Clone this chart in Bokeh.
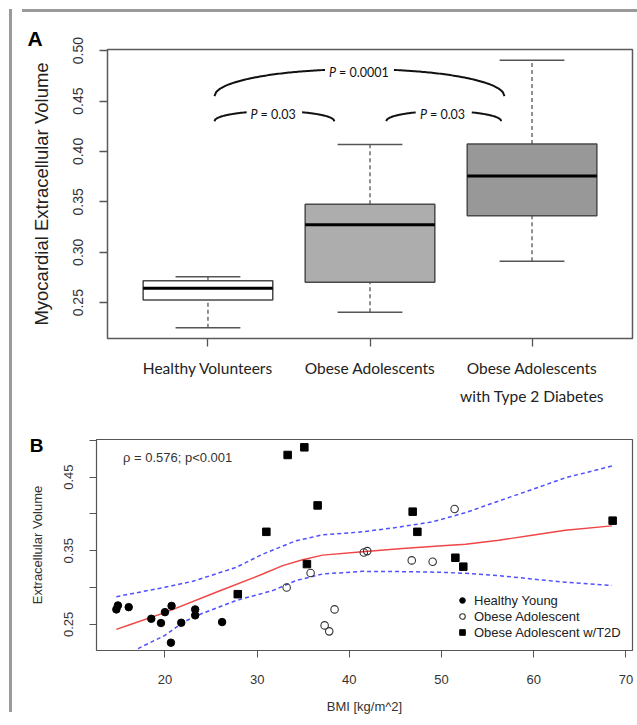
import numpy as np
from bokeh.plotting import figure
from bokeh.models import (FixedTicker, PrintfTickFormatter, Label, Range1d, Legend, LegendItem,
                          Div, Spacer, LinearAxis, Title)
from bokeh.layouts import column, row
from bokeh.embed import file_html
from bokeh.resources import INLINE

# ---------------- data ----------------
group_pos = [1, 2, 3]
group_labels = ["Healthy Volunteers", "Obese Adolescents", "Obese Adolescents"]
group_label_line2 = "with Type 2 Diabetes"
box_fill = ["#ffffff", "#adadad", "#989898"]

hy_bmi = [14.73, 14.9, 16.07, 18.52, 19.57, 20.0, 20.72, 20.65, 21.77, 23.28, 23.28, 26.2]
hy_ecv = [0.2703, 0.2757, 0.2734, 0.2576, 0.2518, 0.2666, 0.2751, 0.2251, 0.2522, 0.2703, 0.2622, 0.2531]
oa_bmi = [33.2, 35.8, 38.4, 37.32, 37.82, 41.57, 41.94, 46.77, 49.04, 51.42]
oa_ecv = [0.300, 0.3197, 0.2703, 0.2486, 0.2405, 0.3477, 0.3495, 0.3369, 0.3351, 0.4068]
t2d_bmi = [27.9, 31.0, 33.31, 35.12, 35.4, 36.56, 46.87, 47.38, 51.5, 52.36, 68.56]
t2d_ecv = [0.291, 0.3757, 0.4801, 0.4905, 0.3319, 0.4116, 0.4031, 0.3757, 0.3405, 0.3284, 0.3909]

fit_bmi = [14.73, 16.18, 20.14, 25.55, 30.61, 32.77, 34.94, 37.1, 41.43, 45.76, 50.09, 52.61, 56.22, 59.83, 63.43, 68.48]
fit_ecv = [0.2432, 0.2495, 0.2666, 0.2936, 0.3184, 0.3297, 0.3378, 0.3441, 0.3486, 0.3531, 0.3568, 0.3589, 0.3643, 0.3711, 0.3778, 0.3838]
ci_hi_bmi = [14.73, 20.0, 23.03, 27.72, 30.61, 34.21, 37.1, 41.43, 45.03, 49.0, 52.61, 56.22, 59.83, 63.43, 68.67]
ci_hi_ecv = [0.2876, 0.3004, 0.3085, 0.3274, 0.3454, 0.3635, 0.3716, 0.3757, 0.3815, 0.3892, 0.4018, 0.4176, 0.4332, 0.4491, 0.4657]
ci_lo_bmi = [17.08, 20.0, 21.76, 23.03, 27.72, 31.69, 34.21, 37.1, 41.43, 45.76, 50.09, 52.61, 56.22, 59.83, 63.43, 68.48]
ci_lo_ecv = [0.217, 0.2351, 0.2508, 0.2599, 0.2824, 0.2959, 0.3095, 0.3184, 0.3220, 0.3216, 0.3207, 0.3193, 0.3162, 0.3116, 0.3072, 0.3027]

# significance brackets: start group-x, end group-x, end level, top level, text
br_x0 = [1.04, 2.10, 1.04]
br_x1 = [1.78, 2.81, 2.83]
br_yend = [0.430, 0.430, 0.4548]
br_ytop = [0.440, 0.440, 0.4816]
br_text = ["= 0.03", "= 0.03", "= 0.0001"]
br_text_y = [0.4365, 0.4365, 0.4786]

y_ticks = [0.25, 0.30, 0.35, 0.40, 0.45, 0.50]
b_y_labeled = [0.25, 0.35, 0.45]
b_x_ticks = [20, 30, 40, 50, 60, 70]

A_YTITLE = "Myocardial Extracellular Volume"
B_LETTER_AT = 0.493      # vertical centre of the panel letter "B", in data units

AX_FONT = "Liberation Sans"
FRAME_GRAY = "#9a9a9a"


def fivenum(v):
    x = np.sort(np.asarray(v, float))
    n = len(x)
    n4 = np.floor((n + 3) / 2) / 2
    d = np.array([1, n4, (n + 1) / 2, n + 1 - n4, n]) - 1
    return 0.5 * (x[np.floor(d).astype(int)] + x[np.ceil(d).astype(int)])


def r_range(v):
    lo, hi = min(v), max(v)
    r = hi - lo
    return lo - 0.04 * r, hi + 0.04 * r


def bare_axis(**kw):
    return LinearAxis(major_tick_out=0, major_tick_in=0, axis_line_color=None,
                      major_tick_line_color=None, minor_tick_line_color=None, **kw)


all_ecv = hy_ecv + oa_ecv + t2d_ecv
all_bmi = hy_bmi + oa_bmi + t2d_bmi
ylo, yhi = r_range(all_ecv)
xlo, xhi = r_range(all_bmi)
y_mid = round((ylo + yhi) / 2, 6)

stats = np.array([fivenum(g) for g in (hy_ecv, oa_ecv, t2d_ecv)])
pos = np.array(group_pos, float)

# ---------------- panel A ----------------
pa = figure(width=622, height=390, output_backend="svg", toolbar_location=None,
            x_range=Range1d(0.38, 3.62), y_range=Range1d(ylo, yhi),
            min_border_left=90, min_border_right=7, min_border_top=32, min_border_bottom=68)
pa.xgrid.visible = False
pa.ygrid.visible = False
pa.outline_line_color = "#5a5a5a"
pa.outline_line_width = 1.5

pa.segment(x0=pos, x1=pos, y0=stats[:, 3], y1=stats[:, 4], line_color="#555555", line_width=1.3, line_dash="4 3")
pa.segment(x0=pos, x1=pos, y0=stats[:, 0], y1=stats[:, 1], line_color="#555555", line_width=1.3, line_dash="4 3")
pa.segment(x0=pos - 0.2, x1=pos + 0.2, y0=stats[:, 4], y1=stats[:, 4], line_color="#555555", line_width=1.5)
pa.segment(x0=pos - 0.2, x1=pos + 0.2, y0=stats[:, 0], y1=stats[:, 0], line_color="#555555", line_width=1.5)
pa.vbar(x=pos, width=0.8, bottom=stats[:, 1], top=stats[:, 3], fill_color=box_fill,
        line_color="#4a4a4a", line_width=1.5)
pa.segment(x0=pos - 0.4, x1=pos + 0.4, y0=stats[:, 2], y1=stats[:, 2], line_color="black", line_width=3)

for x0, x1, ye, yt, txt, ty in zip(br_x0, br_x1, br_yend, br_ytop, br_text, br_text_y):
    xc = (x0 + x1) / 2
    hw = (x1 - x0) / 2
    t = np.linspace(-1, 1, 161)
    xs = xc + hw * t
    ys = ye + (yt - ye) * np.sqrt(np.clip(1 - t ** 2, 0, 1))
    gap = (len(txt) * 6.6 + 16) / 2 / 162.5
    ys[np.abs(xs - xc) < gap] = np.nan
    pa.line(xs, ys, line_color="#111111", line_width=2)
    tw = len(txt) * 6.6 + 10
    pa.add_layout(Label(x=xc, y=ty, text="P", text_font="Lato", text_font_style="italic",
                        text_font_size="12.5px", text_align="right", text_baseline="middle",
                        x_offset=-tw / 2 + 8, text_color="#111111"))
    pa.add_layout(Label(x=xc, y=ty, text=txt, text_font="Lato",
                        text_font_size="12.5px", text_align="left", text_baseline="middle",
                        x_offset=-tw / 2 + 11, text_color="#111111"))

pa.xaxis.ticker = FixedTicker(ticks=group_pos)
pa.xaxis.major_label_overrides = {p: l for p, l in zip(group_pos, group_labels)}
pa.xaxis.major_label_text_font = "Lato"
pa.xaxis.major_label_text_font_size = "15.5px"
pa.xaxis.major_label_text_color = "#222222"
pa.xaxis.major_label_standoff = 12

pa.yaxis.ticker = FixedTicker(ticks=y_ticks)
pa.yaxis.formatter = PrintfTickFormatter(format="%.2f")
pa.yaxis.major_label_orientation = "vertical"
pa.yaxis.major_label_text_font = AX_FONT
pa.yaxis.major_label_text_font_size = "14px"
pa.yaxis.major_label_text_color = "#333333"
pa.yaxis.major_label_standoff = 16
for ax in (pa.xaxis, pa.yaxis):
    ax.axis_line_color = None
    ax.major_tick_out = 8
    ax.major_tick_in = 0
    ax.major_tick_line_color = "#555555"
    ax.major_tick_line_width = 1.3
    ax.minor_tick_line_color = None

# second line of the third category label
line2 = bare_axis(ticker=FixedTicker(ticks=[group_pos[2]]),
                  major_label_overrides={group_pos[2]: group_label_line2},
                  major_label_text_font="Lato", major_label_text_font_size="15.5px",
                  major_label_text_color="#222222", major_label_standoff=7)
pa.add_layout(line2, "below")

# y-axis title of panel A
ytitle = bare_axis(ticker=FixedTicker(ticks=[y_mid]),
                   major_label_overrides={y_mid: A_YTITLE},
                   major_label_orientation="vertical", major_label_text_font=AX_FONT,
                   major_label_text_font_size="18.5px", major_label_text_color="#222222",
                   major_label_standoff=19)
pa.add_layout(ytitle, "left")

pa.add_layout(Title(text="A", align="left", offset=-80, standoff=0, text_font=AX_FONT,
                    text_font_style="bold", text_font_size="21px", text_color="black"), "above")

# ---------------- panel B ----------------
pb = figure(width=622, height=310, output_backend="svg", toolbar_location=None,
            x_range=Range1d(xlo, xhi), y_range=Range1d(ylo, yhi),
            min_border_left=79, min_border_right=7, min_border_top=32, min_border_bottom=67)
pb.xgrid.visible = False
pb.ygrid.visible = False
pb.outline_line_color = "#555555"
pb.outline_line_width = 1.2

pb.line(ci_hi_bmi, ci_hi_ecv, line_color="#5050ff", line_width=1.5, line_dash="4 3")
pb.line(ci_lo_bmi, ci_lo_ecv, line_color="#5050ff", line_width=1.5, line_dash="4 3")
pb.line(fit_bmi, fit_ecv, line_color="#f04646", line_width=1.4)

r_hy = pb.scatter(hy_bmi, hy_ecv, marker="circle", size=7.5, fill_color="black", line_color="black")
r_oa = pb.scatter(oa_bmi, oa_ecv, marker="circle", size=7.5, fill_color=None, line_color="#333333", line_width=1.1)
r_t2d = pb.scatter(t2d_bmi, t2d_ecv, marker="square", size=7.5, fill_color="black", line_color="black")

legend = Legend(items=[LegendItem(label="Healthy Young", renderers=[r_hy]),
                       LegendItem(label="Obese Adolescent", renderers=[r_oa]),
                       LegendItem(label="Obese Adolescent w/T2D", renderers=[r_t2d])],
                location=(359, 10), margin=0, padding=0, spacing=0,
                glyph_width=14, glyph_height=16, label_height=16, label_standoff=5,
                label_text_font=AX_FONT, label_text_font_size="13px", label_text_color="#222222",
                border_line_color=None, background_fill_alpha=0)
pb.add_layout(legend)

pb.add_layout(Label(x=15.45, y=0.477, text="\u03c1 = 0.576; p<0.001", text_font=AX_FONT,
                    text_font_size="13px", text_color="#333333", text_align="left", text_baseline="middle"))

pb.xaxis.ticker = FixedTicker(ticks=b_x_ticks)
pb.yaxis.ticker = FixedTicker(ticks=y_ticks)
pb.yaxis.formatter = PrintfTickFormatter(format="%.2f")
pb.yaxis.major_label_overrides = {t: ("%.2f" % t if t in b_y_labeled else "") for t in y_ticks}
pb.yaxis.major_label_orientation = "vertical"
pb.xaxis.axis_label = "BMI [kg/m^2]"
pb.yaxis.axis_label = "Extracellular Volume"
for ax in (pb.xaxis, pb.yaxis):
    ax.axis_line_color = None
    ax.major_tick_out = 7
    ax.major_tick_in = 0
    ax.major_tick_line_color = "#555555"
    ax.minor_tick_line_color = None
    ax.major_label_text_font = AX_FONT
    ax.major_label_text_font_size = "13px"
    ax.major_label_text_color = "#333333"
    ax.axis_label_text_font = AX_FONT
    ax.axis_label_text_font_size = "13px"
    ax.axis_label_text_font_style = "normal"
    ax.axis_label_text_color = "#333333"
pb.xaxis.major_label_standoff = 17
pb.yaxis.major_label_standoff = 16
pb.xaxis.axis_label_standoff = 12
pb.yaxis.axis_label_standoff = 17

bletter = bare_axis(ticker=FixedTicker(ticks=[B_LETTER_AT]),
                    major_label_overrides={B_LETTER_AT: "B"},
                    major_label_orientation="horizontal", major_label_text_font=AX_FONT,
                    major_label_text_font_style="bold", major_label_text_font_size="19px",
                    major_label_text_color="black", major_label_standoff=-17)
pb.add_layout(bletter, "left")

# outer grey frame (top and left edges)
top_bar = Div(text="", width=622, height=3, styles={"background-color": FRAME_GRAY})
left_bar = Div(text="", width=3, height=703, styles={"background-color": FRAME_GRAY})
layout = column(Spacer(width=10, height=4),
                row(Spacer(width=4, height=10), left_bar,
                    column(top_bar, row(pa), row(pb))))

open("out.html", "w").write(file_html(layout, INLINE))
